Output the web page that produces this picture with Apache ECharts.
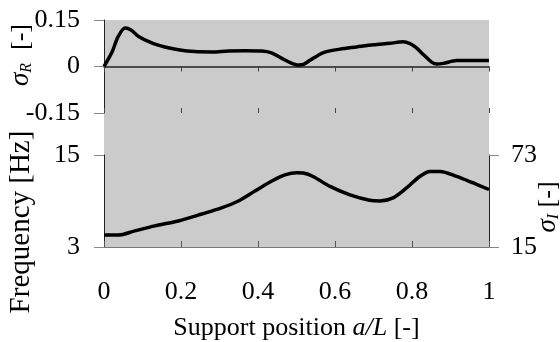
<!DOCTYPE html>
<html>
<head>
<meta charset="utf-8">
<script src="https://cdn.jsdelivr.net/npm/echarts@6/dist/echarts.min.js"></script>
<style>
  html, body { margin: 0; padding: 0; background: #fff; }
  #chart { width: 560px; height: 342px; }
</style>
</head>
<body>
<div id="chart"></div>
<script>
// Normalised support position a/L for the damping-ratio curve
const xSigmaR = [0, 0.02, 0.037, 0.055, 0.07, 0.09, 0.124, 0.158, 0.193, 0.236, 0.28, 0.323, 0.366, 0.41,
  0.435, 0.46, 0.485, 0.505, 0.52, 0.535, 0.57, 0.613, 0.656, 0.70, 0.743, 0.777, 0.795, 0.81, 0.83,
  0.851, 0.865, 0.881, 0.916, 0.95, 1.0];
// sigma_R values
const sigmaR = [0, 0.044, 0.097, 0.124, 0.118, 0.097, 0.076, 0.063, 0.054, 0.048, 0.047, 0.050, 0.051, 0.050,
  0.044, 0.028, 0.012, 0.005, 0.008, 0.020, 0.045, 0.056, 0.063, 0.070, 0.075, 0.080, 0.074, 0.062, 0.038,
  0.014, 0.008, 0.010, 0.019, 0.019, 0.019];

// Support position for the frequency curve
const xFreq = [0, 0.037, 0.08, 0.132, 0.193, 0.254, 0.305, 0.349, 0.392, 0.436, 0.47, 0.5, 0.518, 0.543,
  0.587, 0.639, 0.69, 0.717, 0.751, 0.786, 0.82, 0.847, 0.873, 0.916, 0.959, 1.0];
// Frequency [Hz]
const freq = [4.55, 4.55, 5.1, 5.75, 6.4, 7.3, 8.1, 9.0, 10.3, 11.6, 12.4, 12.7, 12.65, 12.2,
  10.9, 9.8, 9.1, 9.0, 9.4, 10.7, 12.2, 12.85, 12.85, 12.2, 11.35, 10.5];

// Tick labels
const sigmaRTicks = [-0.15, 0, 0.15];
const freqTicks = [3, 15];
const sigmaITicks = [15, 73];

const FONT = '"Liberation Serif", "DejaVu Serif", serif';
const zip = (a, b) => a.map((v, i) => [v, b[i]]);

const chart = echarts.init(document.getElementById('chart'), null, { renderer: 'canvas' });

const G = { left: 104, width: 385 };
const labelStyle = { color: '#000', fontFamily: FONT, fontSize: 26 };

const symbolRich = {
  g: { fontFamily: FONT, fontSize: 27, fontStyle: 'italic', fill: '#000', verticalAlign: 'middle', lineHeight: 28 },
  sub: { fontFamily: FONT, fontSize: 16, fontStyle: 'italic', fill: '#000', verticalAlign: 'bottom', lineHeight: 13 },
  n: { fontFamily: FONT, fontSize: 26, fill: '#000', verticalAlign: 'middle', lineHeight: 28 }
};

chart.setOption({
  animation: false,
  backgroundColor: '#fff',
  grid: [
    { left: G.left, width: G.width, top: 20, height: 93 },
    { left: G.left, width: G.width, top: 155, height: 93 }
  ],
  graphic: [
    { type: 'rect', z: -10, shape: { x: G.left, y: 20, width: G.width, height: 228 },
      style: { fill: '#cbcbcb' } },
    { type: 'text', x: 21, y: 55, rotation: Math.PI / 2,
      style: { text: '{g|σ}{sub|R}{n|  [-]}', align: 'center', verticalAlign: 'middle', rich: symbolRich } },
    { type: 'text', x: 21, y: 222, rotation: Math.PI / 2,
      style: { text: 'Frequency [Hz]', align: 'center', verticalAlign: 'middle',
        fontFamily: FONT, fontSize: 29, fill: '#000' } },
    { type: 'text', x: 548, y: 207, rotation: Math.PI / 2,
      style: { text: '{g|σ}{sub|I}{n| [-]}', align: 'center', verticalAlign: 'middle', rich: symbolRich } }
  ],
  xAxis: [
    { // zero line of the upper panel with downward ticks
      type: 'value', gridIndex: 0, min: 0, max: 1, interval: 0.2, position: 'bottom',
      axisLine: { show: true, onZero: true, lineStyle: { color: '#222', width: 1.5 } },
      axisTick: { show: true, length: 5, lineStyle: { color: '#444' } },
      axisLabel: { show: false }, splitLine: { show: false }
    },
    { // upward half of the crossing ticks
      type: 'value', gridIndex: 0, min: 0, max: 1, interval: 0.2, position: 'bottom',
      axisLine: { show: false, onZero: true },
      axisTick: { show: true, inside: true, length: 5, lineStyle: { color: '#444' } },
      axisLabel: { show: false }, splitLine: { show: false }
    },
    {
      type: 'value', gridIndex: 1, min: 0, max: 1, interval: 0.2, position: 'bottom',
      axisLine: { show: true, onZero: false, lineStyle: { color: '#777', width: 1 } },
      axisTick: { show: true, inside: true, length: 6, lineStyle: { color: '#555' } },
      axisLabel: Object.assign({ margin: 32, formatter: v => String(+v.toFixed(1)) }, labelStyle),
      splitLine: { show: false },
      name: '{n|Support position }{i|a/L}{n| [-]}',
      nameLocation: 'middle', nameGap: 68,
      nameTextStyle: {
        rich: {
          n: { fontFamily: FONT, fontSize: 26, color: '#000' },
          i: { fontFamily: FONT, fontSize: 26, fontStyle: 'italic', color: '#000' }
        }
      }
    }
  ],
  yAxis: [
    {
      type: 'value', gridIndex: 0, min: -0.15, max: 0.15, position: 'left',
      axisLine: { show: true, lineStyle: { color: '#222', width: 1 } },
      axisTick: { show: true, length: 10, customValues: sigmaRTicks, lineStyle: { color: '#888' } },
      axisLabel: Object.assign({ margin: 24, customValues: sigmaRTicks,
        formatter: v => (Math.abs(v) < 1e-9 ? '0' : String(+v.toFixed(2))) }, labelStyle),
      splitLine: { show: false }
    },
    {
      type: 'value', gridIndex: 1, min: 3, max: 15, position: 'left',
      axisLine: { show: true, lineStyle: { color: '#222', width: 1 } },
      axisTick: { show: true, length: 10, customValues: freqTicks, lineStyle: { color: '#888' } },
      axisLabel: Object.assign({ margin: 24, customValues: freqTicks }, labelStyle),
      splitLine: { show: false }
    },
    {
      type: 'value', gridIndex: 1, min: 15, max: 73, position: 'right',
      axisLine: { show: true, lineStyle: { color: '#222', width: 1 } },
      axisTick: { show: true, length: 10, customValues: sigmaITicks, lineStyle: { color: '#888' } },
      axisLabel: Object.assign({ margin: 22, customValues: sigmaITicks }, labelStyle),
      splitLine: { show: false }
    }
  ],
  series: [
    {
      type: 'line', xAxisIndex: 0, yAxisIndex: 0, data: zip(xSigmaR, sigmaR),
      smooth: 0.3, showSymbol: false, lineStyle: { color: '#000', width: 3.5 }, z: 5
    },
    {
      type: 'line', xAxisIndex: 2, yAxisIndex: 1, data: zip(xFreq, freq),
      smooth: 0.3, showSymbol: false, lineStyle: { color: '#000', width: 3.5 }, z: 5
    }
  ]
});
</script>
</body>
</html>
